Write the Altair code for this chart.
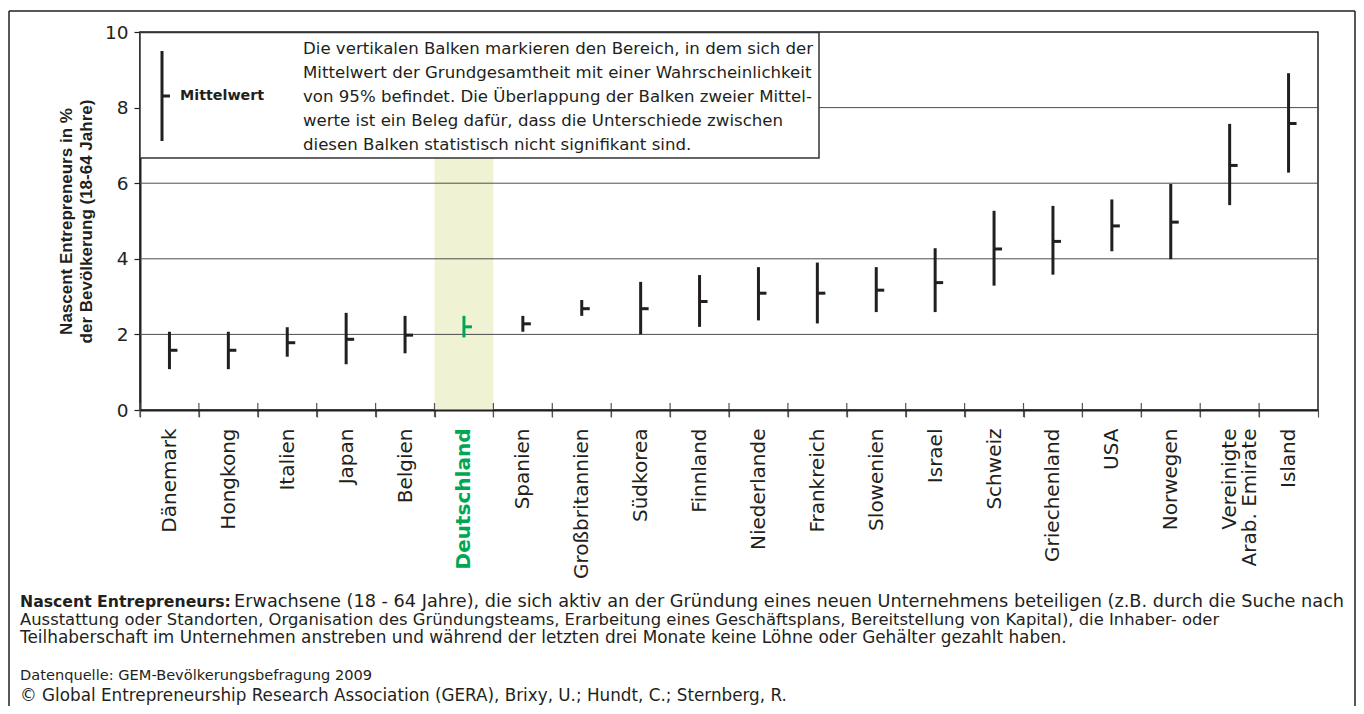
import altair as alt
import pandas as pd

countries = ["Dänemark", "Hongkong", "Italien", "Japan", "Belgien", "Deutschland",
             "Spanien", "Großbritannien", "Südkorea", "Finnland", "Niederlande",
             "Frankreich", "Slowenien", "Israel", "Schweiz", "Griechenland", "USA",
             "Norwegen", "Vereinigte Arab. Emirate", "Island"]
means = [1.58, 1.58, 1.78, 1.87, 1.98, 2.20, 2.28, 2.68, 2.68, 2.87, 3.09,
         3.09, 3.17, 3.37, 4.26, 4.46, 4.87, 4.97, 6.47, 7.58]
lows = [1.08, 1.08, 1.41, 1.21, 1.50, 1.92, 2.07, 2.49, 2.00, 2.20, 2.37,
        2.29, 2.59, 2.59, 3.29, 3.58, 4.20, 3.99, 5.42, 6.28]
highs = [2.07, 2.07, 2.19, 2.57, 2.49, 2.49, 2.49, 2.91, 3.39, 3.57, 3.78,
         3.90, 3.78, 4.28, 5.27, 5.40, 5.57, 5.98, 7.57, 8.91]
y_ticks = [0, 2, 4, 6, 8, 10]
grid_values = [2, 4, 6, 8]
highlight = "Deutschland"

y_title = ["Nascent Entrepreneurs in %", "der Bevölkerung (18-64 Jahre)"]
legend_label = "Mittelwert"
legend_lines = [
    "Die vertikalen Balken markieren den Bereich, in dem sich der",
    "Mittelwert der Grundgesamtheit mit einer Wahrscheinlichkeit",
    "von 95% befindet. Die Überlappung der Balken zweier Mittel-",
    "werte ist ein Beleg dafür, dass die Unterschiede zwischen",
    "diesen Balken statistisch nicht signifikant sind.",
]
note_bold = "Nascent Entrepreneurs:"
note_line1 = "Erwachsene (18 - 64 Jahre), die sich aktiv an der Gründung eines neuen Unternehmens beteiligen (z.B. durch die Suche nach"
note_line2 = "Ausstattung oder Standorten, Organisation des Gründungsteams, Erarbeitung eines Geschäftsplans, Bereitstellung von Kapital), die Inhaber- oder"
note_line3 = "Teilhaberschaft im Unternehmen anstreben und während der letzten drei Monate keine Löhne oder Gehälter gezahlt haben."
source = "Datenquelle: GEM-Bevölkerungsbefragung 2009"
copyright_line = "©  Global Entrepreneurship Research Association (GERA), Brixy, U.; Hundt, C.; Sternberg, R."

df = pd.DataFrame({"country": countries, "mean": means, "low": lows, "high": highs})
grid_df = pd.DataFrame({"gv": grid_values})
hl_df = pd.DataFrame({"country": [highlight]})
one = pd.DataFrame({"k": [0]})

W, H = 1178, 378
BAND = W / len(countries)
INK = "#231f20"
GREEN = "#00a651"
FONT = "DejaVu Sans"
AFONT = "Liberation Sans"

x_scale = alt.Scale(domain=countries, paddingInner=0, paddingOuter=0)
y_scale = alt.Scale(domain=[0, 10], nice=False)

is_hl = "datum.value === 'Deutschland'"
x_axis = alt.Axis(
    title=None, labelAngle=-90, labelFont=FONT, labelFontSize=20,
    labelColor={"condition": {"test": is_hl, "value": GREEN}, "value": INK},
    labelFontWeight={"condition": {"test": is_hl, "value": "bold"}, "value": "normal"},
    labelPadding=11, labelLineHeight=20, labelLimit=0,
    labelExpr="datum.label == 'Vereinigte Arab. Emirate' ? ['Vereinigte', 'Arab. Emirate'] : datum.label",
    tickBand="extent", tickSize=7, tickColor="#555555", tickWidth=1.2,
    domainColor=INK, domainWidth=2, grid=False,
)
y_axis = alt.Axis(
    values=y_ticks, title=y_title, titleFont=AFONT, titleFontWeight="bold",
    titleFontSize=17, titleColor=INK, titleLineHeight=20, titlePadding=9,
    labelFont=FONT, labelFontSize=18.5, labelColor=INK, labelPadding=6,
    tickSize=6, tickColor=INK, tickWidth=1.2, domainColor=INK, domainWidth=2, grid=False,
)

color_cond = alt.condition(alt.datum.country == highlight, alt.value(GREEN), alt.value(INK))

band = alt.Chart(hl_df).mark_rect(color="#eff3d3").encode(
    x=alt.X("country:N", scale=x_scale, axis=x_axis, sort=countries),
    y=alt.value(0), y2=alt.value(H),
)
grid = alt.Chart(grid_df).mark_rule(color="#4d4d4d", strokeWidth=1).encode(
    y=alt.Y("gv:Q", scale=y_scale, axis=y_axis)
)
box = alt.Chart(one).mark_rect(fill="white", stroke="#333333", strokeWidth=1.5).encode(
    x=alt.value(0), x2=alt.value(679), y=alt.value(0.5), y2=alt.value(126)
)
leg_bar = alt.Chart(one).mark_rule(color=INK, strokeWidth=3).encode(
    x=alt.value(22), y=alt.value(19), y2=alt.value(109)
)
leg_tick = alt.Chart(one).mark_rule(color=INK, strokeWidth=3).encode(
    x=alt.value(22), x2=alt.value(30), y=alt.value(64)
)
leg_label = alt.Chart(one).mark_text(
    text=legend_label, font=FONT, fontWeight="bold", fontSize=14.3, color=INK,
    align="left", baseline="middle"
).encode(x=alt.value(40), y=alt.value(64))
leg_text = alt.Chart(one).mark_text(
    text=legend_lines, font=FONT, fontSize=16.6, color=INK, lineHeight=24,
    align="left", baseline="alphabetic"
).encode(x=alt.value(163), y=alt.value(22))

# small tick crossings at the category boundaries (upper half)
cross = alt.Chart(df).mark_tick(
    orient="vertical", size=14, thickness=1.2, color="#555555", opacity=1, xOffset=-BAND / 2
).encode(
    x=alt.X("country:N", scale=x_scale, axis=x_axis, sort=countries),
    y=alt.value(H),
)

bars = alt.Chart(df).mark_rule(strokeWidth=3).encode(
    x=alt.X("country:N", scale=x_scale, axis=x_axis, sort=countries),
    y=alt.Y("low:Q", scale=y_scale, axis=y_axis),
    y2="high:Q",
    color=color_cond,
)
ticks = alt.Chart(df).mark_tick(size=8, thickness=3, xOffset=4, orient="horizontal", opacity=1).encode(
    x=alt.X("country:N", scale=x_scale, axis=x_axis, sort=countries),
    y=alt.Y("mean:Q", scale=y_scale, axis=y_axis),
    color=color_cond,
)

def txt(text, x, y, bold=False, size=17):
    return alt.Chart(one).mark_text(
        text=text, font=FONT, fontSize=size, fontWeight="bold" if bold else "normal",
        color=INK, align="left", baseline="alphabetic"
    ).encode(x=alt.value(x), y=alt.value(y))

foot = [
    txt(note_bold, -120, 575, bold=True, size=15.7),
    txt(note_line1, 94, 575, size=17.7),
    txt(note_line2, -120, 593, size=16.4),
    txt(note_line3, -120, 611, size=16.9),
    txt(source, -120, 648, size=14.6),
    txt(copyright_line, -120, 669, size=16.8),
]

frame = [
    alt.Chart(one).mark_rule(color=INK, strokeWidth=1.5).encode(
        x=alt.value(-131), y=alt.value(-21), y2=alt.value(680)),
    alt.Chart(one).mark_rule(color=INK, strokeWidth=1.5).encode(
        x=alt.value(1215), y=alt.value(-21), y2=alt.value(680)),
    alt.Chart(one).mark_rule(color=INK, strokeWidth=1.5).encode(
        x=alt.value(-131), x2=alt.value(1215), y=alt.value(-21)),
]

chart = alt.layer(
    band, grid, box, leg_bar, leg_tick, leg_label, leg_text, cross, bars, ticks, *foot, *frame
).properties(
    width=W, height=H,
    padding={"left": 132, "top": 24, "right": 38, "bottom": 296},
    autosize=alt.AutoSizeParams(type="none"),
    background="white",
).configure_view(stroke=INK, strokeWidth=1.5)

chart.save("out.html", embed_options={"renderer": "svg", "actions": False})
